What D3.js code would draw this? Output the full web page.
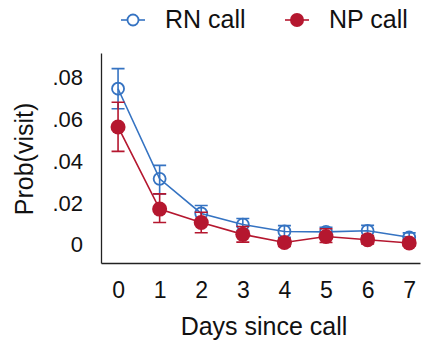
<!DOCTYPE html>
<html>
<head>
<meta charset="utf-8">
<script src="https://cdn.jsdelivr.net/npm/d3@7"></script>
<style>
  body { margin: 0; background: #fff; }
  text { font-family: "Liberation Sans", Arial, sans-serif; fill: #111; }
</style>
</head>
<body>
<div id="chart"></div>
<script>
// days since call
const days = [0, 1, 2, 3, 4, 5, 6, 7];

// RN call: estimate, lower CI, upper CI
const rnEst = [0.0747, 0.0316, 0.0150, 0.0097, 0.0064, 0.0062, 0.0067, 0.0036];
const rnLo  = [0.0651, 0.0244, 0.0113, 0.0068, 0.0036, 0.0040, 0.0040, 0.0015];
const rnHi  = [0.0843, 0.0380, 0.0188, 0.0126, 0.0092, 0.0084, 0.0093, 0.0057];

// NP call
const npEst = [0.0564, 0.0171, 0.0107, 0.0050, 0.0011, 0.0040, 0.0024, 0.0009];
const npLo  = [0.0447, 0.0107, 0.0058, 0.0013, -0.0008, 0.0011, 0.0004, -0.0006];
const npHi  = [0.0682, 0.0244, 0.0156, 0.0088, 0.0030, 0.0077, 0.0044, 0.0024];

const yTicks = [0, 0.02, 0.04, 0.06, 0.08];
const yTickLabels = ['0', '.02', '.04', '.06', '.08'];

const blue = '#3573c2';
const red = '#b5172f';

const W = 422, H = 342;
const svg = d3.select('#chart').append('svg')
  .attr('width', W)
  .attr('height', H);

const x = d3.scaleLinear().domain([-0.41, 7.26]).range([101, 420]);
const y = d3.scaleLinear().domain([-0.0087, 0.0918]).range([263, 53]);

// axes
const xAxis = d3.axisBottom(x)
  .tickValues(days)
  .tickSize(0)
  .tickPadding(19)
  .tickFormat(d3.format('d'));
const yAxis = d3.axisLeft(y)
  .tickValues(yTicks)
  .tickSize(0)
  .tickPadding(18)
  .tickFormat((d, i) => yTickLabels[i]);

const gx = svg.append('g')
  .attr('transform', `translate(0, ${y.range()[0]})`)
  .call(xAxis);
gx.selectAll('text').attr('font-size', 23).attr('font-family', null).attr('fill', '#111');

const gy = svg.append('g')
  .attr('transform', `translate(${x.range()[0]}, 0)`)
  .call(yAxis);
gy.selectAll('text').attr('font-size', 22).attr('font-family', null).attr('fill', '#111');

svg.selectAll('.domain').attr('stroke', '#222').attr('stroke-width', 1.3);

// axis titles
svg.append('text')
  .attr('x', 264)
  .attr('y', 335)
  .attr('text-anchor', 'middle')
  .attr('font-size', 25)
  .text('Days since call');

svg.append('text')
  .attr('transform', 'translate(33, 159) rotate(-90)')
  .attr('text-anchor', 'middle')
  .attr('font-size', 25)
  .text('Prob(visit)');

const series = [
  {name: 'RN call', est: rnEst, lo: rnLo, hi: rnHi, color: blue, filled: false},
  {name: 'NP call', est: npEst, lo: npLo, hi: npHi, color: red, filled: true}
];

const cap = 6.5;

series.forEach(s => {
  const g = svg.append('g');
  const rows = days.map((d, i) => ({d, est: s.est[i], lo: s.lo[i], hi: s.hi[i]}));

  // error bars
  g.selectAll('.bar')
    .data(rows)
    .enter()
    .append('path')
    .attr('fill', 'none')
    .attr('stroke', s.color)
    .attr('stroke-width', 1.6)
    .attr('d', r => {
      const cx = x(r.d);
      return `M${cx - cap},${y(r.hi)}H${cx + cap}M${cx},${y(r.hi)}V${y(r.lo)}M${cx - cap},${y(r.lo)}H${cx + cap}`;
    });

  // connecting line
  g.append('path')
    .datum(rows)
    .attr('fill', 'none')
    .attr('stroke', s.color)
    .attr('stroke-width', 1.6)
    .attr('d', d3.line().x(r => x(r.d)).y(r => y(r.est)));

  // markers
  g.selectAll('circle')
    .data(rows)
    .enter()
    .append('circle')
    .attr('cx', r => x(r.d))
    .attr('cy', r => y(r.est))
    .attr('r', s.filled ? 7.5 : 6)
    .attr('fill', s.filled ? s.color : 'none')
    .attr('stroke', s.color)
    .attr('stroke-width', s.filled ? 0 : 1.8);
});

// legend
const legend = svg.append('g');
const legendX = [133, 297];
series.forEach((s, i) => {
  const cx = legendX[i];
  legend.append('line')
    .attr('x1', cx - 12).attr('x2', cx + 12)
    .attr('y1', 20).attr('y2', 20)
    .attr('stroke', s.color)
    .attr('stroke-width', 1.6);
  legend.append('circle')
    .attr('cx', cx).attr('cy', 20)
    .attr('r', s.filled ? 7 : 5.5)
    .attr('fill', s.filled ? s.color : '#fff')
    .attr('stroke', s.color)
    .attr('stroke-width', s.filled ? 0 : 1.8);
  legend.append('text')
    .attr('x', cx + 32)
    .attr('y', 28)
    .attr('font-size', 25)
    .text(s.name);
});
</script>
</body>
</html>
